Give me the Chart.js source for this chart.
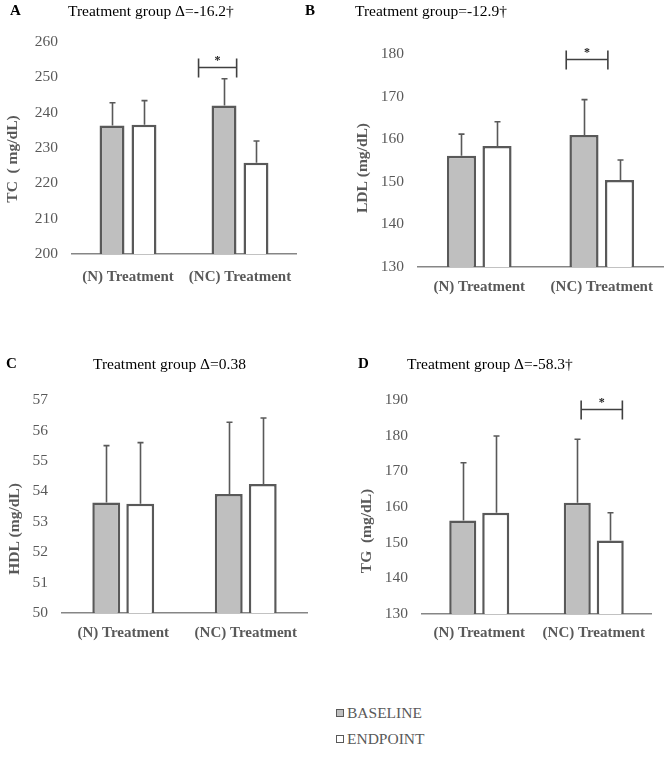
<!DOCTYPE html>
<html>
<head>
<meta charset="utf-8">
<script src="https://cdn.jsdelivr.net/npm/chart.js@4.4.1/dist/chart.umd.min.js"></script>
<style>
  html, body { margin: 0; padding: 0; background: #ffffff; }
  body { width: 669px; height: 762px; position: relative; overflow: hidden; font-family: "Liberation Serif", "Times New Roman", serif; }
  .cv { position: absolute; }
  .letter { position: absolute; font-weight: bold; font-size: 15px; color: #000; line-height: 1; }
  .ttl { position: absolute; font-size: 15.5px; color: #000; line-height: 1; white-space: nowrap; }
  .legend { position: absolute; left: 336px; top: 700px; font-size: 15.5px; color: #595959; }
  .legend .row { display: flex; align-items: center; height: 26px; }
  .legend .sw { width: 6px; height: 6px; border: 1.5px solid #595959; margin-right: 3px; }
</style>
</head>
<body>
<canvas id="cA" class="cv" width="330" height="300" style="left:0px;top:0px;"></canvas>
<canvas id="cB" class="cv" width="339" height="300" style="left:330px;top:0px;"></canvas>
<canvas id="cC" class="cv" width="330" height="330" style="left:0px;top:330px;"></canvas>
<canvas id="cD" class="cv" width="339" height="330" style="left:330px;top:330px;"></canvas>

<div class="letter" style="left:10px;top:3px;">A</div>
<div class="ttl" style="left:68px;top:3px;">Treatment group Δ=-16.2†</div>
<div class="letter" style="left:305px;top:3px;">B</div>
<div class="ttl" style="left:355px;top:3px;">Treatment group=-12.9†</div>
<div class="letter" style="left:6px;top:356px;">C</div>
<div class="ttl" style="left:93px;top:356px;">Treatment group Δ=0.38</div>
<div class="letter" style="left:358px;top:356px;">D</div>
<div class="ttl" style="left:407px;top:356px;">Treatment group Δ=-58.3†</div>

<div class="legend" id="legend"></div>

<script>
// ---------------- DATA ----------------
const categories = ['(N) Treatment', '(NC) Treatment'];
const seriesNames = ['BASELINE', 'ENDPOINT'];

const tcBaseline = [236.4, 242.0];
const tcEndpoint = [236.6, 225.8];
const tcBaselineErr = [6.4, 7.6];
const tcEndpointErr = [6.8, 6.2];
const tcTicks = [200, 210, 220, 230, 240, 250, 260];

const ldlBaseline = [156.1, 161.0];
const ldlEndpoint = [158.4, 150.4];
const ldlBaselineErr = [5.1, 8.3];
const ldlEndpointErr = [5.7, 4.7];
const ldlTicks = [130, 140, 150, 160, 170, 180];

const hdlBaseline = [53.63, 53.91];
const hdlEndpoint = [53.59, 54.24];
const hdlBaselineErr = [1.87, 2.36];
const hdlEndpointErr = [2.01, 2.17];
const hdlTicks = [50, 51, 52, 53, 54, 55, 56, 57];

const tgBaseline = [156.2, 161.2];
const tgEndpoint = [158.4, 150.6];
const tgBaselineErr = [16.2, 17.8];
const tgEndpointErr = [21.5, 7.8];
const tgTicks = [130, 140, 150, 160, 170, 180, 190];

// significance brackets: category index, start/end as fraction of category width from its centre, y value
const tcSig = { cat: 1, from: -0.37, to: -0.03, y: 252.9 };
const ldlSig = { cat: 1, from: -0.29, to: 0.05, y: 178.8 };
const tgSig = { cat: 1, from: -0.11, to: 0.25, y: 187.4 };

// ---------------- STYLE ----------------
const BASE_FILL = '#bfbfbf';
const END_FILL = '#ffffff';
const EDGE = '#595959';
const AXIS = '#868686';
const TXT = '#595959';
const FONT = '"Liberation Serif", "Times New Roman", serif';

const errorBarPlugin = {
  id: 'errorBars',
  afterDatasetsDraw(chart) {
    const ctx = chart.ctx;
    const yS = chart.scales.y;
    ctx.save();
    ctx.strokeStyle = EDGE;
    ctx.lineWidth = 1.6;
    chart.data.datasets.forEach((ds, di) => {
      const meta = chart.getDatasetMeta(di);
      meta.data.forEach((el, i) => {
        const top = yS.getPixelForValue(ds.data[i] + ds.errors[i]);
        const x = Math.round(el.x) + 0.5;
        ctx.beginPath();
        ctx.moveTo(x, el.y);
        ctx.lineTo(x, top);
        ctx.moveTo(x - 3, top);
        ctx.lineTo(x + 3, top);
        ctx.stroke();
      });
    });
    const sig = chart.options.plugins.sig;
    if (sig && sig.cat !== undefined) {
      const xS = chart.scales.x;
      const cw = (xS.right - xS.left) / chart.data.labels.length;
      const c = xS.getPixelForValue(sig.cat);
      const x1 = c + sig.from * cw, x2 = c + sig.to * cw;
      const y = Math.round(yS.getPixelForValue(sig.y)) + 0.5;
      ctx.strokeStyle = '#404040';
      ctx.lineWidth = 1.6;
      ctx.beginPath();
      ctx.moveTo(x1, y); ctx.lineTo(x2, y);
      ctx.moveTo(x1, y - 9); ctx.lineTo(x1, y + 10);
      ctx.moveTo(x2, y - 9); ctx.lineTo(x2, y + 10);
      ctx.stroke();
      ctx.fillStyle = '#222';
      ctx.font = 'bold 12px ' + FONT;
      ctx.textAlign = 'center';
      ctx.textBaseline = 'middle';
      ctx.fillText('*', (x1 + x2) / 2, y - 7);
    }
    ctx.restore();
  }
};

const yTitlePlugin = {
  id: 'yTitle',
  afterDraw(chart) {
    const o = chart.options.plugins.yTitle;
    if (!o) return;
    const ctx = chart.ctx;
    ctx.save();
    ctx.translate(o.x, o.y);
    ctx.rotate(-Math.PI / 2);
    ctx.fillStyle = TXT;
    ctx.font = 'bold 15.5px ' + FONT;
    ctx.textAlign = 'center';
    ctx.textBaseline = 'middle';
    ctx.fillText(o.text, 0, 0);
    ctx.restore();
  }
};

function makeChart(id, cfg) {
  const ticks = cfg.ticks;
  return new Chart(document.getElementById(id), {
    type: 'bar',
    data: {
      labels: categories,
      datasets: [
        { label: seriesNames[0], data: cfg.base, errors: cfg.baseErr, backgroundColor: BASE_FILL, borderColor: EDGE, borderWidth: 2.5, borderSkipped: false,
          categoryPercentage: cfg.catPct, barPercentage: cfg.barPct },
        { label: seriesNames[1], data: cfg.end, errors: cfg.endErr, backgroundColor: END_FILL, borderColor: EDGE, borderWidth: 2.5, borderSkipped: false,
          categoryPercentage: cfg.catPct, barPercentage: cfg.barPct }
      ]
    },
    options: {
      responsive: false,
      animation: false,
      devicePixelRatio: 1,
      layout: { padding: { top: cfg.padTop, right: cfg.padRight, left: 0, bottom: 0 } },
      plugins: { legend: { display: false }, tooltip: { enabled: false }, title: { display: false }, sig: cfg.sig,
        yTitle: { text: cfg.yTitle, x: cfg.titleX, y: cfg.titleY } },
      scales: {
        x: {
          grid: { display: false, drawTicks: false },
          border: { display: true, color: AXIS, width: 1.5 },
          ticks: { color: TXT, font: { family: FONT, size: 15, weight: 'bold' }, padding: cfg.xPad, maxRotation: 0, autoSkip: false },
          afterFit(s) { s.height = cfg.xH; }
        },
        y: {
          min: ticks[0], max: ticks[ticks.length - 1],
          afterBuildTicks(s) { s.ticks = ticks.map(v => ({ value: v })); },
          grid: { display: false, drawTicks: false },
          border: { display: false },
          ticks: { color: TXT, font: { family: FONT, size: 15.5 }, padding: 14 },
          title: { display: false },
          afterFit(s) { s.width = cfg.yW; }
        }
      }
    },
    plugins: [errorBarPlugin, yTitlePlugin]
  });
}

makeChart('cA', { base: tcBaseline, end: tcEndpoint, baseErr: tcBaselineErr, endErr: tcEndpointErr, ticks: tcTicks,
  yTitle: 'TC  ( mg/dL)', sig: tcSig, padTop: 42, padRight: 34, yW: 72, xH: 46, xPad: 14, titleX: 13, titleY: 159, catPct: 0.571, barPct: 0.78 });
makeChart('cB', { base: ldlBaseline, end: ldlEndpoint, baseErr: ldlBaselineErr, endErr: ldlEndpointErr, ticks: ldlTicks,
  yTitle: 'LDL (mg/dL)', sig: ldlSig, padTop: 54, padRight: 6, yW: 88, xH: 33, xPad: 11, titleX: 33, titleY: 168, catPct: 0.58, barPct: 0.82 });
makeChart('cC', { base: hdlBaseline, end: hdlEndpoint, baseErr: hdlBaselineErr, endErr: hdlEndpointErr, ticks: hdlTicks,
  yTitle: 'HDL (mg/dL)', sig: null, padTop: 70, padRight: 23, yW: 62, xH: 47, xPad: 11, titleX: 15, titleY: 199, catPct: 0.555, barPct: 0.82 });
makeChart('cD', { base: tgBaseline, end: tgEndpoint, baseErr: tgBaselineErr, endErr: tgEndpointErr, ticks: tgTicks,
  yTitle: 'TG  (mg/dL)', sig: tgSig, padTop: 70, padRight: 18, yW: 92, xH: 46, xPad: 10, titleX: 37, titleY: 201, catPct: 0.576, barPct: 0.82 });

// legend
const fills = [BASE_FILL, END_FILL];
const lg = document.getElementById('legend');
seriesNames.forEach((n, i) => {
  const r = document.createElement('div'); r.className = 'row';
  const sw = document.createElement('span'); sw.className = 'sw'; sw.style.background = fills[i];
  const t = document.createElement('span'); t.textContent = n;
  r.appendChild(sw); r.appendChild(t); lg.appendChild(r);
});
</script>
</body>
</html>
